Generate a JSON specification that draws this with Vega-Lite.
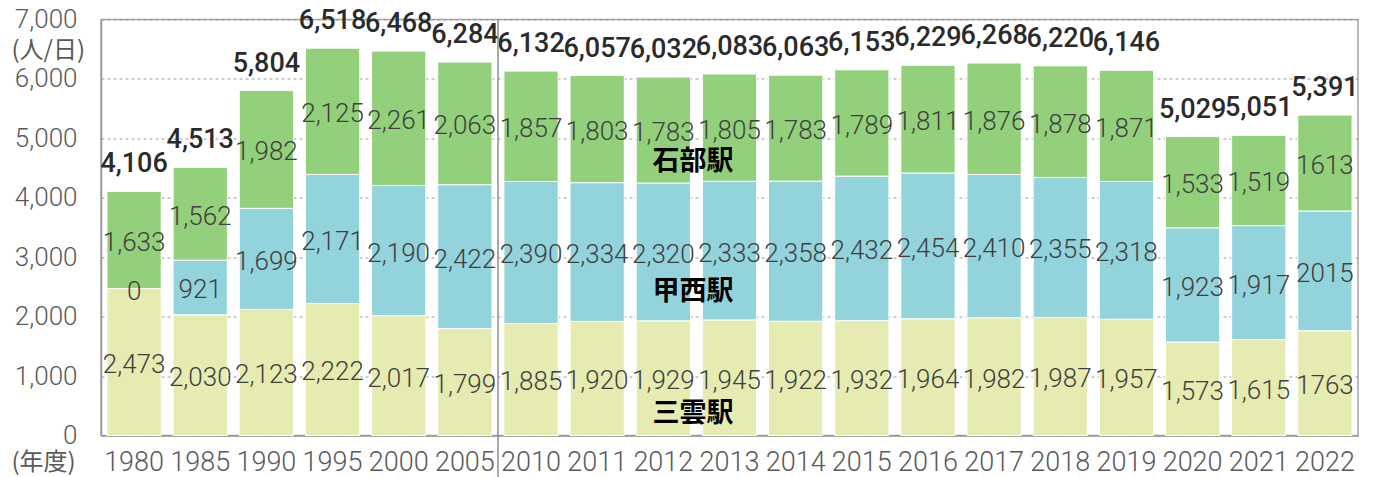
{
  "$schema": "https://vega.github.io/schema/vega-lite/v6.json",
  "width": 1257,
  "height": 416,
  "autosize": {"type": "none"},
  "padding": {"left": 101, "top": 19.5, "right": 19, "bottom": 41.5},
  "background": "white",
  "config": {
    "view": {"stroke": "#a6a6a6", "strokeWidth": 1.5},
    "font": "Roboto"
  },
  "datasets": {
    "seg": [
      {"year": "1980", "station": "三雲駅", "order": 1, "value": 2473, "label": "2,473"},
      {"year": "1980", "station": "甲西駅", "order": 2, "value": 0, "label": "0"},
      {"year": "1980", "station": "石部駅", "order": 3, "value": 1633, "label": "1,633"},
      {"year": "1985", "station": "三雲駅", "order": 1, "value": 2030, "label": "2,030"},
      {"year": "1985", "station": "甲西駅", "order": 2, "value": 921, "label": "921"},
      {"year": "1985", "station": "石部駅", "order": 3, "value": 1562, "label": "1,562"},
      {"year": "1990", "station": "三雲駅", "order": 1, "value": 2123, "label": "2,123"},
      {"year": "1990", "station": "甲西駅", "order": 2, "value": 1699, "label": "1,699"},
      {"year": "1990", "station": "石部駅", "order": 3, "value": 1982, "label": "1,982"},
      {"year": "1995", "station": "三雲駅", "order": 1, "value": 2222, "label": "2,222"},
      {"year": "1995", "station": "甲西駅", "order": 2, "value": 2171, "label": "2,171"},
      {"year": "1995", "station": "石部駅", "order": 3, "value": 2125, "label": "2,125"},
      {"year": "2000", "station": "三雲駅", "order": 1, "value": 2017, "label": "2,017"},
      {"year": "2000", "station": "甲西駅", "order": 2, "value": 2190, "label": "2,190"},
      {"year": "2000", "station": "石部駅", "order": 3, "value": 2261, "label": "2,261"},
      {"year": "2005", "station": "三雲駅", "order": 1, "value": 1799, "label": "1,799"},
      {"year": "2005", "station": "甲西駅", "order": 2, "value": 2422, "label": "2,422"},
      {"year": "2005", "station": "石部駅", "order": 3, "value": 2063, "label": "2,063"},
      {"year": "2010", "station": "三雲駅", "order": 1, "value": 1885, "label": "1,885"},
      {"year": "2010", "station": "甲西駅", "order": 2, "value": 2390, "label": "2,390"},
      {"year": "2010", "station": "石部駅", "order": 3, "value": 1857, "label": "1,857"},
      {"year": "2011", "station": "三雲駅", "order": 1, "value": 1920, "label": "1,920"},
      {"year": "2011", "station": "甲西駅", "order": 2, "value": 2334, "label": "2,334"},
      {"year": "2011", "station": "石部駅", "order": 3, "value": 1803, "label": "1,803"},
      {"year": "2012", "station": "三雲駅", "order": 1, "value": 1929, "label": "1,929"},
      {"year": "2012", "station": "甲西駅", "order": 2, "value": 2320, "label": "2,320"},
      {"year": "2012", "station": "石部駅", "order": 3, "value": 1783, "label": "1,783"},
      {"year": "2013", "station": "三雲駅", "order": 1, "value": 1945, "label": "1,945"},
      {"year": "2013", "station": "甲西駅", "order": 2, "value": 2333, "label": "2,333"},
      {"year": "2013", "station": "石部駅", "order": 3, "value": 1805, "label": "1,805"},
      {"year": "2014", "station": "三雲駅", "order": 1, "value": 1922, "label": "1,922"},
      {"year": "2014", "station": "甲西駅", "order": 2, "value": 2358, "label": "2,358"},
      {"year": "2014", "station": "石部駅", "order": 3, "value": 1783, "label": "1,783"},
      {"year": "2015", "station": "三雲駅", "order": 1, "value": 1932, "label": "1,932"},
      {"year": "2015", "station": "甲西駅", "order": 2, "value": 2432, "label": "2,432"},
      {"year": "2015", "station": "石部駅", "order": 3, "value": 1789, "label": "1,789"},
      {"year": "2016", "station": "三雲駅", "order": 1, "value": 1964, "label": "1,964"},
      {"year": "2016", "station": "甲西駅", "order": 2, "value": 2454, "label": "2,454"},
      {"year": "2016", "station": "石部駅", "order": 3, "value": 1811, "label": "1,811"},
      {"year": "2017", "station": "三雲駅", "order": 1, "value": 1982, "label": "1,982"},
      {"year": "2017", "station": "甲西駅", "order": 2, "value": 2410, "label": "2,410"},
      {"year": "2017", "station": "石部駅", "order": 3, "value": 1876, "label": "1,876"},
      {"year": "2018", "station": "三雲駅", "order": 1, "value": 1987, "label": "1,987"},
      {"year": "2018", "station": "甲西駅", "order": 2, "value": 2355, "label": "2,355"},
      {"year": "2018", "station": "石部駅", "order": 3, "value": 1878, "label": "1,878"},
      {"year": "2019", "station": "三雲駅", "order": 1, "value": 1957, "label": "1,957"},
      {"year": "2019", "station": "甲西駅", "order": 2, "value": 2318, "label": "2,318"},
      {"year": "2019", "station": "石部駅", "order": 3, "value": 1871, "label": "1,871"},
      {"year": "2020", "station": "三雲駅", "order": 1, "value": 1573, "label": "1,573"},
      {"year": "2020", "station": "甲西駅", "order": 2, "value": 1923, "label": "1,923"},
      {"year": "2020", "station": "石部駅", "order": 3, "value": 1533, "label": "1,533"},
      {"year": "2021", "station": "三雲駅", "order": 1, "value": 1615, "label": "1,615"},
      {"year": "2021", "station": "甲西駅", "order": 2, "value": 1917, "label": "1,917"},
      {"year": "2021", "station": "石部駅", "order": 3, "value": 1519, "label": "1,519"},
      {"year": "2022", "station": "三雲駅", "order": 1, "value": 1763, "label": "1763"},
      {"year": "2022", "station": "甲西駅", "order": 2, "value": 2015, "label": "2015"},
      {"year": "2022", "station": "石部駅", "order": 3, "value": 1613, "label": "1613"}
    ],
    "totals": [
      {"year": "1980", "total": 4106, "label": "4,106"},
      {"year": "1985", "total": 4513, "label": "4,513"},
      {"year": "1990", "total": 5804, "label": "5,804"},
      {"year": "1995", "total": 6518, "label": "6,518"},
      {"year": "2000", "total": 6468, "label": "6,468"},
      {"year": "2005", "total": 6284, "label": "6,284"},
      {"year": "2010", "total": 6132, "label": "6,132"},
      {"year": "2011", "total": 6057, "label": "6,057"},
      {"year": "2012", "total": 6032, "label": "6,032"},
      {"year": "2013", "total": 6083, "label": "6,083"},
      {"year": "2014", "total": 6063, "label": "6,063"},
      {"year": "2015", "total": 6153, "label": "6,153"},
      {"year": "2016", "total": 6229, "label": "6,229"},
      {"year": "2017", "total": 6268, "label": "6,268"},
      {"year": "2018", "total": 6220, "label": "6,220"},
      {"year": "2019", "total": 6146, "label": "6,146"},
      {"year": "2020", "total": 5029, "label": "5,029"},
      {"year": "2021", "total": 5051, "label": "5,051"},
      {"year": "2022", "total": 5391, "label": "5,391"}
    ]
  },
  "layer": [
    {
      "data": {"name": "seg"},
      "mark": {"type": "bar", "stroke": "white", "strokeWidth": 1},
      "encoding": {
        "x": {
          "field": "year", "type": "nominal", "sort": null,
          "scale": {"paddingInner": 0.18, "paddingOuter": 0.09},
          "axis": {
            "title": "(年度)", "labelAngle": 0, "ticks": false, "tickSize": 0,
            "labelFont": "Roboto", "labelFontSize": 27, "labelFontWeight": 300, "labelColor": "#595959",
            "labelPadding": 14, "domainColor": "#999999", "domainWidth": 1.5,
            "titleFont": "Noto Sans CJK JP", "titleFontSize": 24, "titleFontWeight": "normal", "titleColor": "#595959",
            "titleX": -58, "titleY": 27, "titleAlign": "center", "titleBaseline": "middle"
          }
        },
        "y": {
          "field": "value", "type": "quantitative", "stack": "zero",
          "scale": {"domain": [0, 7000], "nice": false},
          "axis": {
            "title": "(人/日)", "values": [0, 1000, 2000, 3000, 4000, 5000, 6000, 7000],
            "labelExpr": "format(datum.value, ',')",
            "ticks": false, "tickSize": 0, "labelPadding": 24,
            "labelFont": "Roboto", "labelFontSize": 26, "labelFontWeight": 300, "labelColor": "#595959",
            "domainColor": "#999999", "domainWidth": 1.5,
            "grid": true, "gridColor": "#9a9a9a", "gridDash": [3, 3], "gridWidth": 1,
            "titleFont": "Noto Sans CJK JP", "titleFontSize": 24, "titleFontWeight": "normal", "titleColor": "#595959",
            "titleAngle": 0, "titleX": -90, "titleY": 31, "titleAlign": "left", "titleBaseline": "middle"
          }
        },
        "color": {
          "field": "station", "type": "nominal",
          "scale": {"domain": ["三雲駅", "甲西駅", "石部駅"], "range": ["#e6ebb1", "#93d3dc", "#93d07c"]},
          "legend": null
        },
        "order": {"field": "order", "type": "quantitative"}
      }
    },
    {
      "data": {"name": "seg"},
      "mark": {"type": "text", "font": "Roboto", "fontSize": 26, "fontWeight": 300, "color": "#404040", "baseline": "middle", "dy": 3},
      "encoding": {
        "x": {"field": "year", "type": "nominal", "sort": null},
        "y": {"field": "value", "type": "quantitative", "stack": "zero", "bandPosition": 0.5, "scale": {"domain": [0, 7000], "nice": false}},
        "detail": {"field": "station", "type": "nominal"},
        "order": {"field": "order", "type": "quantitative"},
        "text": {"field": "label", "type": "nominal"}
      }
    },
    {
      "data": {"name": "totals"},
      "mark": {"type": "text", "font": "Roboto", "fontSize": 27, "fontWeight": 500, "color": "#2b2b2b", "baseline": "alphabetic", "dy": -19},
      "encoding": {
        "x": {"field": "year", "type": "nominal", "sort": null},
        "y": {"field": "total", "type": "quantitative", "scale": {"domain": [0, 7000], "nice": false}},
        "text": {"field": "label", "type": "nominal"}
      }
    },
    {
      "data": {"values": [{}]},
      "mark": {"type": "rule", "color": "#8c8c8c", "strokeWidth": 1.5, "clip": false},
      "encoding": {
        "x": {"datum": "2010", "bandPosition": -0.109},
        "y": {"datum": 7000, "scale": {"domain": [0, 7000], "nice": false}},
        "y2": {"datum": -750}
      }
    },
    {
      "data": {"values": [{}]},
      "mark": {"type": "text", "text": "石部駅", "font": "Noto Sans CJK JP", "fontSize": 27, "fontWeight": "bold", "color": "#000000", "baseline": "middle"},
      "encoding": {
        "x": {"datum": "2012", "bandPosition": 1.047},
        "y": {"datum": 4594, "scale": {"domain": [0, 7000], "nice": false}}
      }
    },
    {
      "data": {"values": [{}]},
      "mark": {"type": "text", "text": "甲西駅", "font": "Noto Sans CJK JP", "fontSize": 27, "fontWeight": "bold", "color": "#000000", "baseline": "middle"},
      "encoding": {
        "x": {"datum": "2012", "bandPosition": 1.047},
        "y": {"datum": 2423, "scale": {"domain": [0, 7000], "nice": false}}
      }
    },
    {
      "data": {"values": [{}]},
      "mark": {"type": "text", "text": "三雲駅", "font": "Noto Sans CJK JP", "fontSize": 27, "fontWeight": "bold", "color": "#000000", "baseline": "middle"},
      "encoding": {
        "x": {"datum": "2012", "bandPosition": 1.047},
        "y": {"datum": 370, "scale": {"domain": [0, 7000], "nice": false}}
      }
    }
  ]
}
